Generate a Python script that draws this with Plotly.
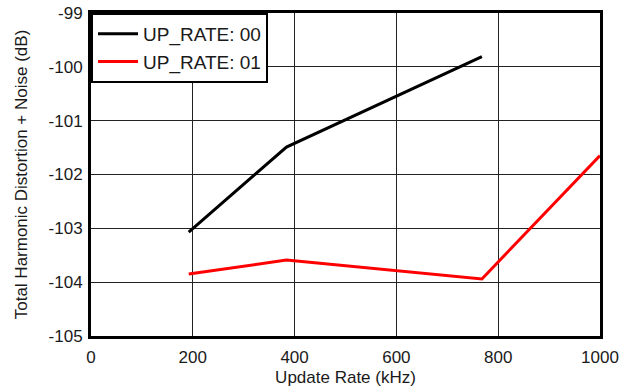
import plotly.graph_objects as go

# Update rate (kHz) and THD+N (dB) for each UP_RATE setting
rate_00 = [192, 384, 768]
thdn_00 = [-103.07, -101.49, -99.81]

rate_01 = [192, 384, 768, 1000]
thdn_01 = [-103.85, -103.59, -103.94, -101.65]

x_ticks = [0, 200, 400, 600, 800, 1000]
y_ticks = [-105, -104, -103, -102, -101, -100, -99]

font_family = "Liberation Sans, Arial, sans-serif"

fig = go.Figure()
fig.add_trace(go.Scatter(x=rate_00, y=thdn_00, mode="lines", name="UP_RATE: 00",
                         line=dict(color="black", width=3)))
fig.add_trace(go.Scatter(x=rate_01, y=thdn_01, mode="lines", name="UP_RATE: 01",
                         line=dict(color="#ff0000", width=3)))

axis_common = dict(
    showgrid=True, gridcolor="#222222", gridwidth=1,
    showline=True, linecolor="black", linewidth=3, mirror=True,
    zeroline=False, ticks="", automargin=False,
    tickfont=dict(size=17, color="#1a1a1a"),
    title_font=dict(size=17, color="#1a1a1a"),
)

fig.update_xaxes(range=[0, 1000], tickvals=x_ticks,
                 ticktext=[str(v) for v in x_ticks],
                 title_text="Update Rate (kHz)",
                 title_standoff=5, ticklabelstandoff=4, **axis_common)
# plain hyphen-minus in the y tick labels
fig.update_yaxes(range=[-105, -99], tickvals=y_ticks,
                 ticktext=[str(v) for v in y_ticks],
                 title_text="Total Harmonic Distortion + Noise (dB)",
                 title_standoff=17, ticklabelstandoff=2, **axis_common)

fig.update_layout(
    width=631, height=389,
    margin=dict(l=91, r=31, t=13, b=53),
    paper_bgcolor="white", plot_bgcolor="white",
    font=dict(family=font_family, size=17, color="#1a1a1a"),
    legend=dict(x=0, y=1, xanchor="left", yanchor="top",
                bgcolor="white", bordercolor="black", borderwidth=2,
                font=dict(size=19, color="#1a1a1a"),
                tracegroupgap=0, itemwidth=40),
    showlegend=True,
)

fig.write_html("out.html")
